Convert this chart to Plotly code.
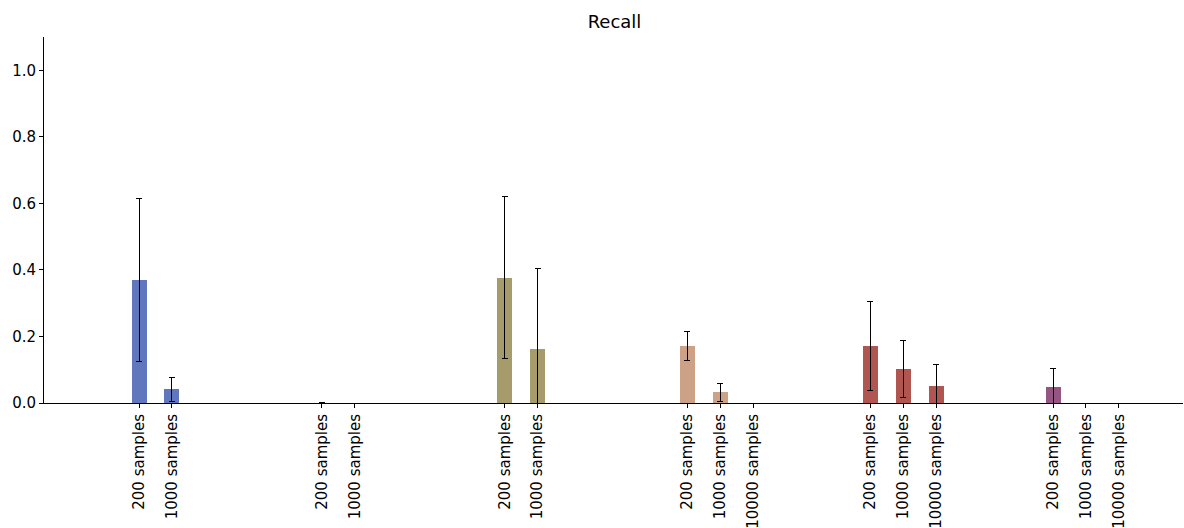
import plotly.graph_objects as go

# Recall per model family and training-set size (mean ± spread)
sample_sizes = ["200 samples", "1000 samples", "10000 samples"]

g1_recall = [0.370, 0.042]
g1_err = [0.244, 0.036]
g2_recall = [0.0, 0.0]
g2_err = [0.002, 0.0]
g3_recall = [0.377, 0.162]
g3_err = [0.244, 0.243]
g4_recall = [0.172, 0.033, 0.0]
g4_err = [0.043, 0.027, 0.0]
g5_recall = [0.172, 0.102, 0.050]
g5_err = [0.134, 0.086, 0.067]
g6_recall = [0.048, 0.0, 0.0]
g6_err = [0.055, 0.0, 0.0]

group_colors = ["#6177bd", "#7a7a7a", "#a69b6b", "#cda186", "#b0554f", "#945580"]

groups = [
    (g1_recall, g1_err),
    (g2_recall, g2_err),
    (g3_recall, g3_err),
    (g4_recall, g4_err),
    (g5_recall, g5_err),
    (g6_recall, g6_err),
]

SLOT = 0.18      # spacing between bars inside a group
BAR_W = 0.082

fig = go.Figure()
tickvals, ticktext = [], []
for gi, ((vals, errs), color) in enumerate(zip(groups, group_colors)):
    xs = [gi + k * SLOT for k in range(len(vals))]
    tickvals += xs
    ticktext += sample_sizes[:len(vals)]
    fig.add_trace(go.Bar(
        x=xs, y=vals, width=BAR_W,
        marker=dict(color=color, line=dict(width=0)),
        error_y=dict(type="data", array=errs, visible=True,
                     color="black", thickness=1, width=3),
        showlegend=False,
    ))

fig.update_layout(
    width=1184, height=528,
    margin=dict(l=44, r=1, t=37, b=125),
    paper_bgcolor="white", plot_bgcolor="white",
    font=dict(family="DejaVu Sans", size=15, color="black"),
    title=dict(text="Recall", x=0.519, xanchor="center", y=0.958, yanchor="middle",
               font=dict(size=18)),
    bargap=0,
)
fig.update_xaxes(
    range=[-0.52, 5.711],
    tickmode="array", tickvals=tickvals, ticktext=ticktext, tickangle=-90,
    showline=True, linecolor="black", linewidth=1,
    ticks="outside", ticklen=4, tickcolor="black",
    showgrid=False, zeroline=False, automargin=False,
)
fig.update_yaxes(
    range=[0, 1.1],
    tickmode="array", tickvals=[0, 0.2, 0.4, 0.6, 0.8, 1.0],
    ticktext=["0.0", "0.2", "0.4", "0.6", "0.8", "1.0"],
    showline=True, linecolor="black", linewidth=1,
    ticks="outside", ticklen=4, tickcolor="black",
    showgrid=False, zeroline=False, automargin=False,
)

fig.write_html("out.html")
